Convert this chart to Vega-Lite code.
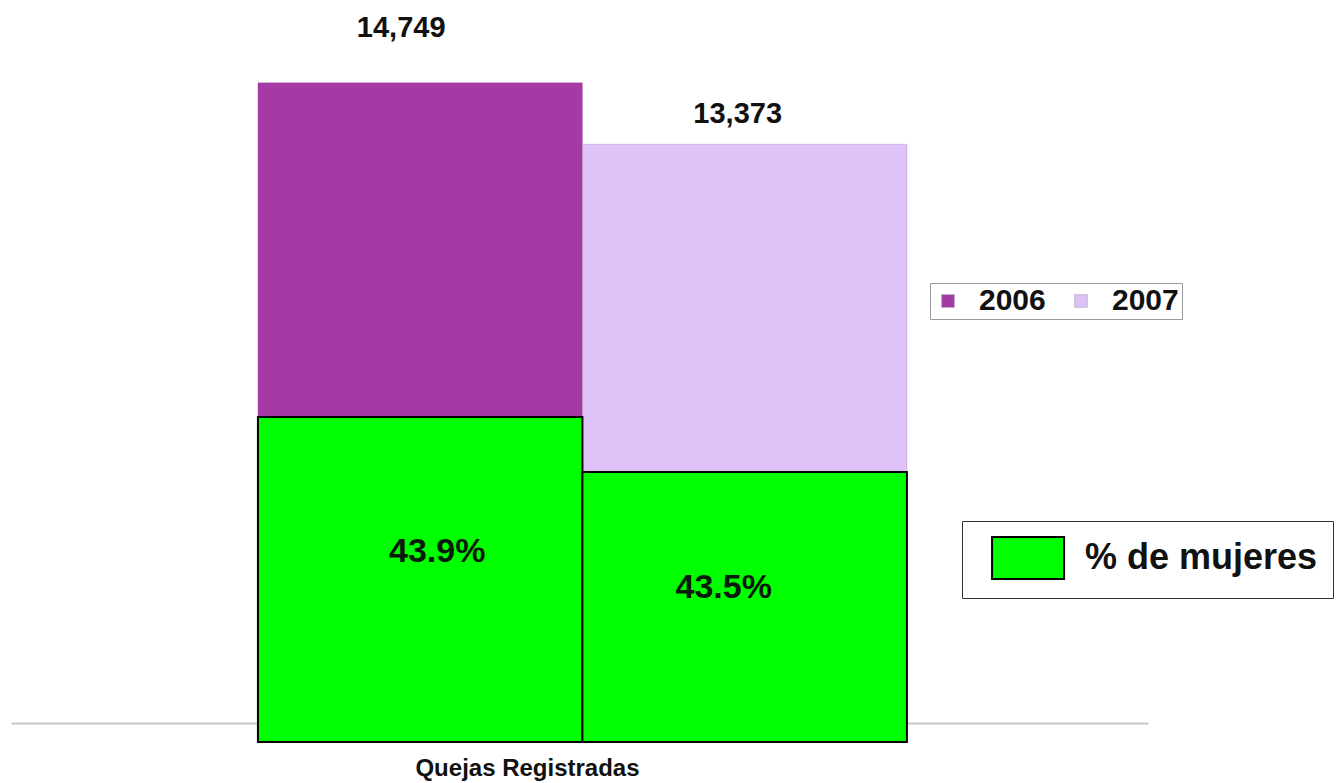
{
  "$schema": "https://vega.github.io/schema/vega-lite/v6.json",
  "autosize": {"type": "none"},
  "padding": {"left": 11, "top": 0, "right": 196, "bottom": 41},
  "width": 1137,
  "height": 742,
  "background": "white",
  "config": {"view": {"stroke": null}, "font": "Liberation Sans"},
  "data": {
    "values": [
      {"year": "2006", "total": 14749, "mujeres": 7270, "pct": "43.9%", "serie": "% de mujeres"},
      {"year": "2007", "total": 13373, "mujeres": 6040, "pct": "43.5%", "serie": "% de mujeres"}
    ]
  },
  "encoding": {
    "x": {
      "field": "year",
      "type": "nominal",
      "scale": {"domain": ["2006", "2007"], "paddingInner": 0, "paddingOuter": 0.752, "align": 0.506},
      "axis": {
        "title": "Quejas Registradas",
        "labels": false,
        "ticks": false,
        "offset": -19,
        "domainColor": "#c8c8c8",
        "domainWidth": 2,
        "titleFont": "Liberation Sans",
        "titleFontSize": 24,
        "titleFontWeight": "bold",
        "titleColor": "#111111",
        "titleX": 516,
        "titleY": 45,
        "titleAlign": "center",
        "titleBaseline": "middle"
      }
    }
  },
  "layer": [
    {
      "mark": {"type": "bar", "stroke": "#8a2a8a", "strokeWidth": 0.5, "strokeOpacity": 0.4},
      "encoding": {
        "y": {"field": "total", "type": "quantitative", "scale": {"domain": [0, 16600], "nice": false}, "axis": null},
        "color": {
          "field": "year",
          "type": "nominal",
          "scale": {"domain": ["2006", "2007"], "range": ["#a53aa5", "#dfc3f8"]},
          "legend": {
            "title": null,
            "orient": "none",
            "legendX": 919,
            "legendY": 283,
            "direction": "horizontal",
            "symbolType": "square",
            "symbolSize": 160,
            "symbolStrokeColor": "#9a8aa8",
            "symbolStrokeWidth": 0.5,
            "symbolOpacity": 1,
            "labelFont": "Liberation Sans",
            "labelFontSize": 30,
            "labelFontWeight": "bold",
            "labelColor": "#111111",
            "labelOffset": 16,
            "columnPadding": 20,
            "padding": 3,
            "strokeColor": "#999999",
            "fillColor": "white"
          }
        }
      }
    },
    {
      "mark": {"type": "bar", "stroke": "black", "strokeWidth": 2},
      "encoding": {
        "y": {"field": "mujeres", "type": "quantitative"},
        "fill": {
          "field": "serie",
          "type": "nominal",
          "scale": {"domain": ["% de mujeres"], "range": ["#00ff00"]},
          "legend": {
            "title": null,
            "orient": "none",
            "legendX": 951,
            "legendY": 521,
            "symbolType": "M-0.33,-1L3.1,-1L3.1,1L-0.33,1Z",
            "symbolSize": 1764,
            "symbolStrokeColor": "black",
            "symbolStrokeWidth": 2,
            "symbolOpacity": 1,
            "labelFont": "Liberation Sans",
            "labelFontSize": 36,
            "labelFontWeight": "bold",
            "labelColor": "#111111",
            "labelOffset": 64,
            "labelLimit": 400,
            "padding": 15,
            "strokeColor": "#333333",
            "fillColor": "white"
          }
        }
      }
    },
    {
      "transform": [{"filter": "datum.year == '2006'"}],
      "mark": {"type": "text", "fontSize": 29, "fontWeight": "bold", "color": "#111111", "baseline": "middle", "dy": -55, "dx": -19},
      "encoding": {
        "y": {"field": "total", "type": "quantitative"},
        "text": {"field": "total", "type": "quantitative", "format": ","}
      }
    },
    {
      "transform": [{"filter": "datum.year == '2007'"}],
      "mark": {"type": "text", "fontSize": 29, "fontWeight": "bold", "color": "#111111", "baseline": "middle", "dy": -30, "dx": -7},
      "encoding": {
        "y": {"field": "total", "type": "quantitative"},
        "text": {"field": "total", "type": "quantitative", "format": ","}
      }
    },
    {
      "transform": [{"filter": "datum.year == '2006'"}],
      "mark": {"type": "text", "fontSize": 34, "fontWeight": "bold", "color": "#0a1a0a", "baseline": "middle", "dy": 135, "dx": 17},
      "encoding": {
        "y": {"field": "mujeres", "type": "quantitative"},
        "text": {"field": "pct", "type": "nominal"}
      }
    },
    {
      "transform": [{"filter": "datum.year == '2007'"}],
      "mark": {"type": "text", "fontSize": 34, "fontWeight": "bold", "color": "#0a1a0a", "baseline": "middle", "dy": 116, "dx": -21},
      "encoding": {
        "y": {"field": "mujeres", "type": "quantitative"},
        "text": {"field": "pct", "type": "nominal"}
      }
    }
  ]
}
